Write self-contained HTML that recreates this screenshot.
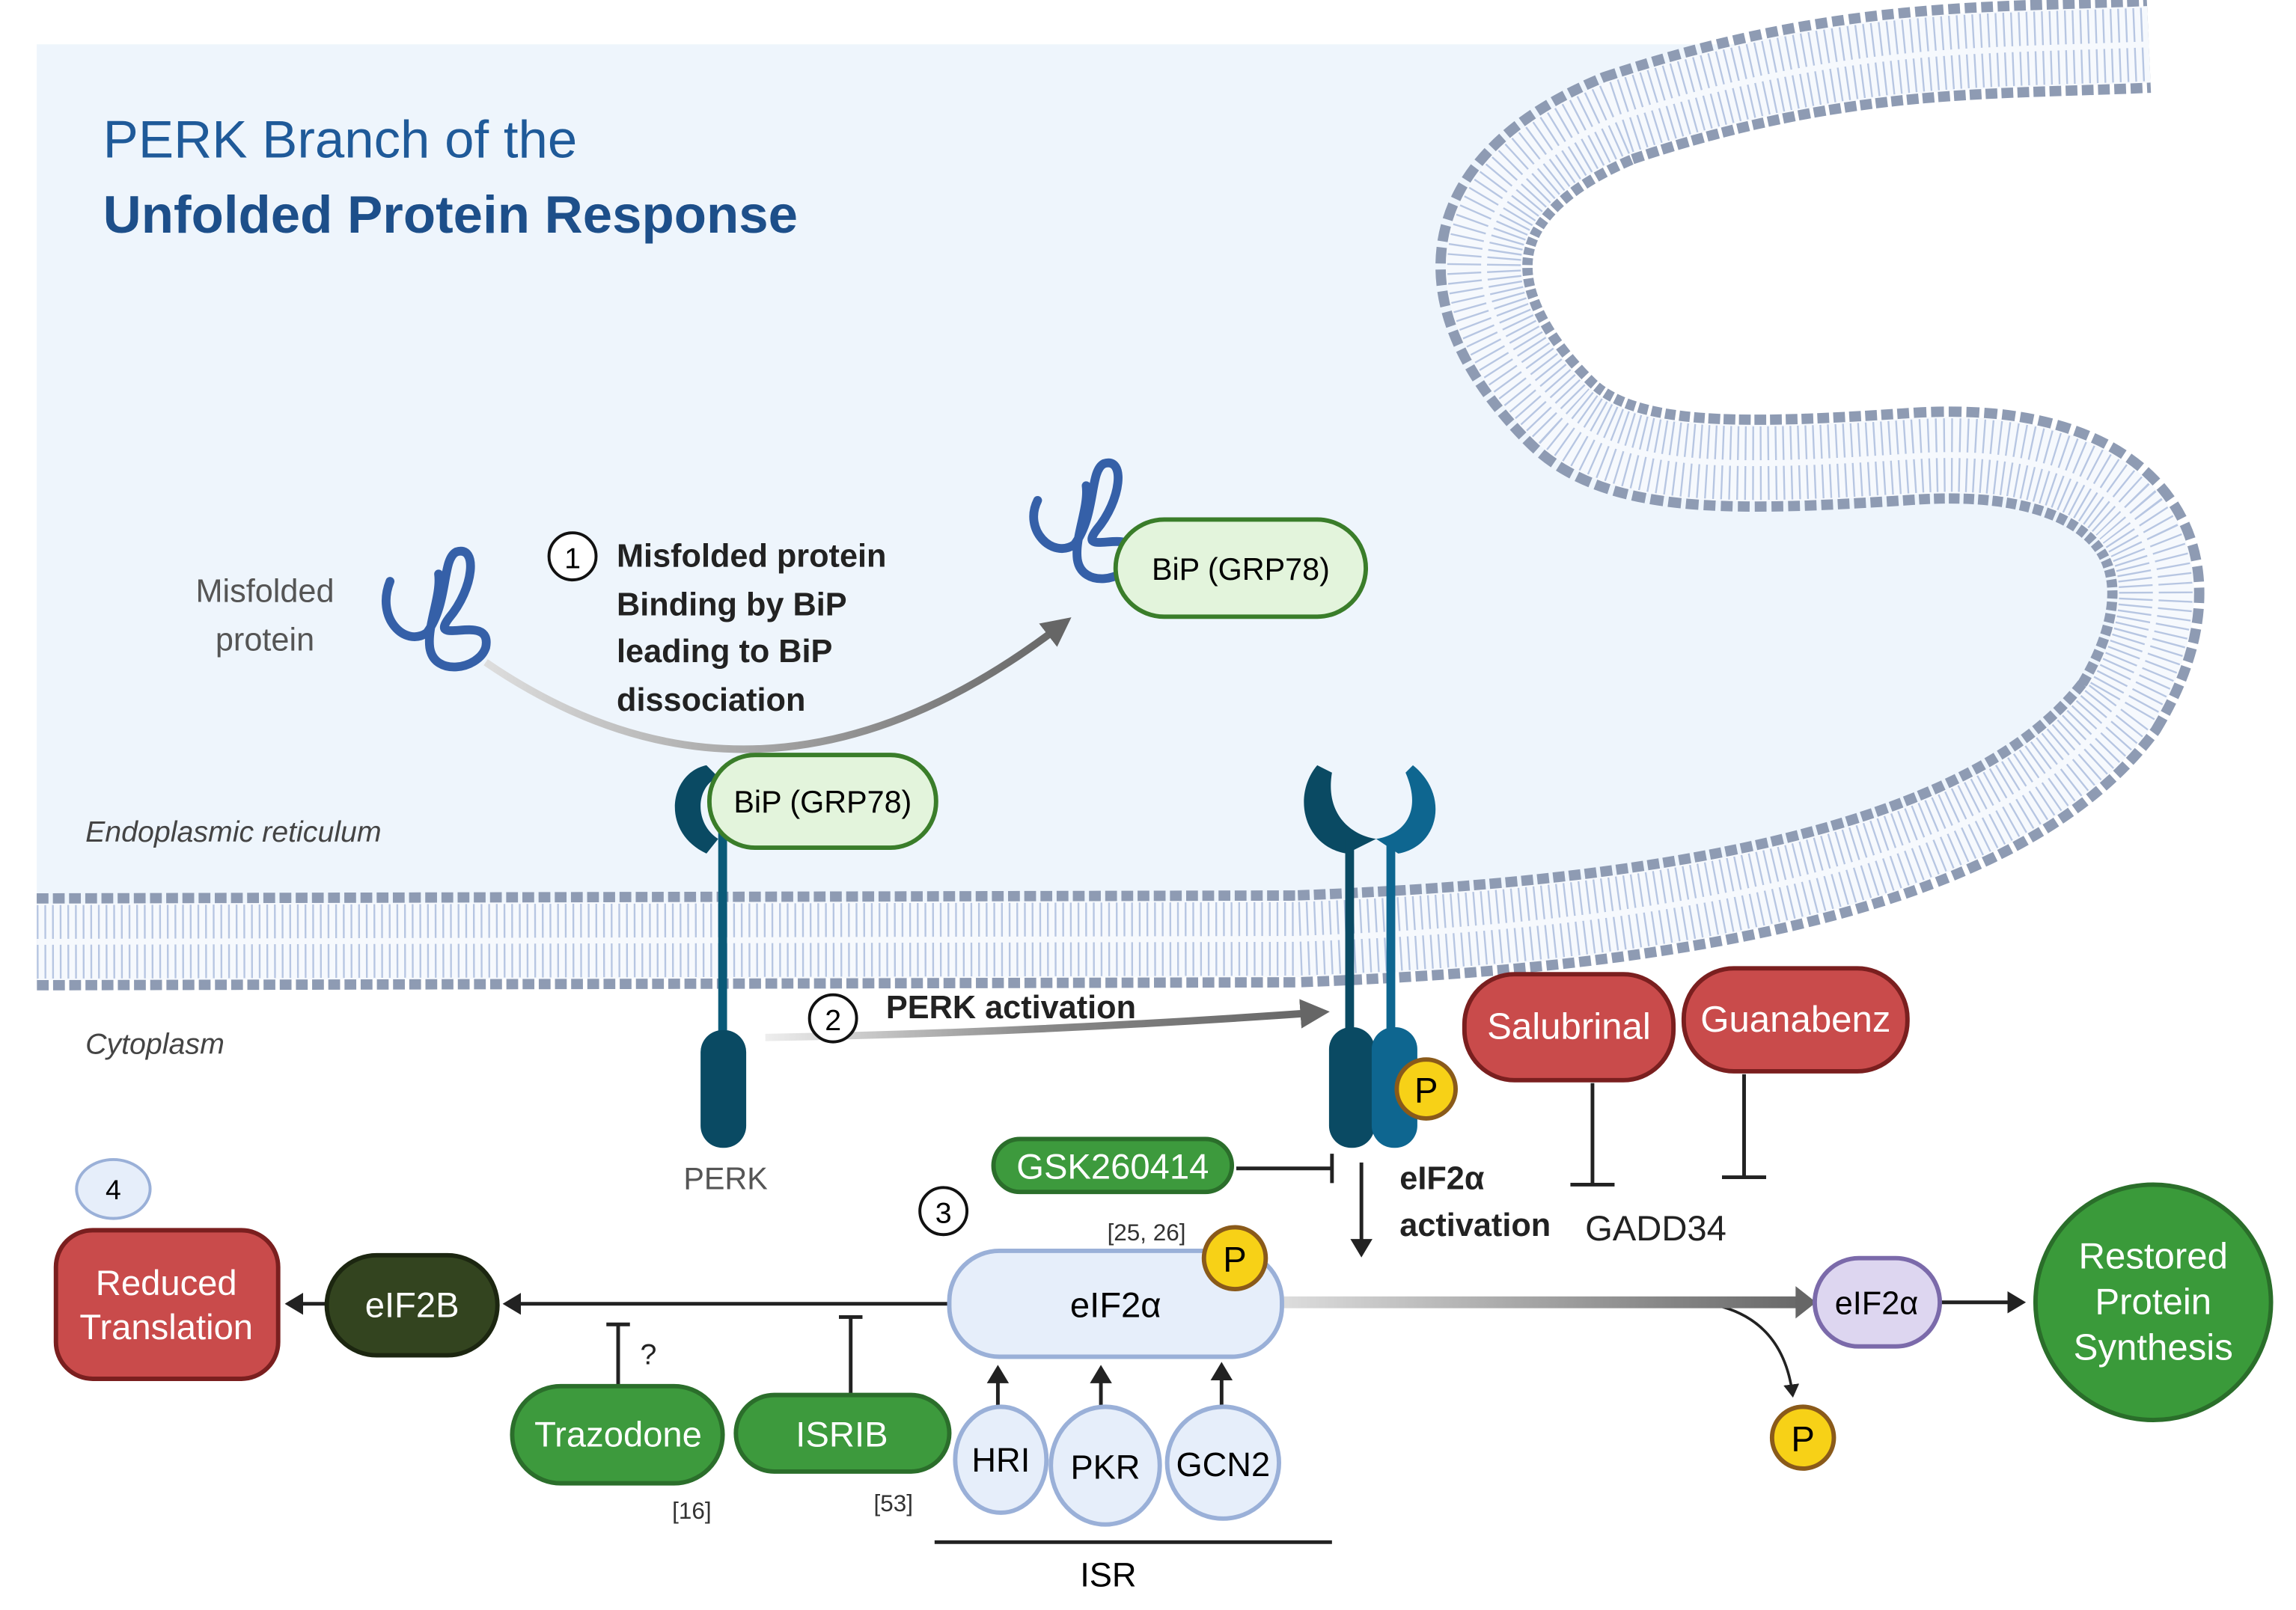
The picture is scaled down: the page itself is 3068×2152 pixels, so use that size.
<!DOCTYPE html>
<html><head><meta charset="utf-8"><style>
html,body{margin:0;padding:0;background:#fff}
svg{display:block}
text{font-family:"Liberation Sans",sans-serif}
</style></head><body>
<svg width="3068" height="2152" viewBox="0 0 1560 1094" xmlns="http://www.w3.org/2000/svg">
<defs>
<linearGradient id="g1" x1="0" x2="1"><stop offset="0" stop-color="#ddd"/><stop offset="1" stop-color="#666"/></linearGradient>
<linearGradient id="g2" x1="0" x2="1"><stop offset="0" stop-color="#eee"/><stop offset="0.5" stop-color="#888"/><stop offset="1" stop-color="#666"/></linearGradient>
<linearGradient id="g3" gradientUnits="userSpaceOnUse" x1="871" y1="0" x2="1230" y2="0"><stop offset="0" stop-color="#ddd"/><stop offset="1" stop-color="#666"/></linearGradient>
<marker id="ah" markerWidth="6" markerHeight="6" refX="4" refY="3" orient="auto" markerUnits="strokeWidth"><path d="M0,0 L5,3 L0,6 Z" fill="#222"/></marker>
<marker id="ahg" markerWidth="4" markerHeight="4" refX="2.5" refY="2" orient="auto" markerUnits="strokeWidth"><path d="M0,0 L4,2 L0,4 Z" fill="#666"/></marker>
</defs>
<path d="M25,30 L1460,30 C1350,35 1250,30 1100,80 C980,130 990,210 1060,280 C1100,320 1180,318 1300,310 C1450,300 1500,380 1440,480 C1350,600 1100,630 880,638 L25,640 Z" fill="#eef5fc"/>
<g fill="none">
<path d="M25,640 L880,638 C1100,630 1350,600 1440,480 C1500,380 1450,300 1300,310 C1180,318 1100,320 1060,280 C990,210 980,130 1100,80 C1250,30 1350,35 1460,30" stroke="#8e9bb3" stroke-width="66" stroke-dasharray="8 3"/>
<path d="M25,640 L880,638 C1100,630 1350,600 1440,480 C1500,380 1450,300 1300,310 C1180,318 1100,320 1060,280 C990,210 980,130 1100,80 C1250,30 1350,35 1460,30" stroke="#f6f9fd" stroke-width="52"/>
<path d="M25,640 L880,638 C1100,630 1350,600 1440,480 C1500,380 1450,300 1300,310 C1180,318 1100,320 1060,280 C990,210 980,130 1100,80 C1250,30 1350,35 1460,30" stroke="#b7c6e2" stroke-width="50" stroke-dasharray="1.2 4"/>
<path d="M25,640 L880,638 C1100,630 1350,600 1440,480 C1500,380 1450,300 1300,310 C1180,318 1100,320 1060,280 C990,210 980,130 1100,80 C1250,30 1350,35 1460,30" stroke="#f6f9fd" stroke-width="4"/>
</g>
<text x="70" y="107" font-size="36" fill="#1f5a99">PERK Branch of the</text>
<text x="70" y="158" font-size="36" font-weight="bold" fill="#1d4f8a">Unfolded Protein Response</text>
<text x="180" y="409" font-size="22" fill="#555" text-anchor="middle">Misfolded</text>
<text x="180" y="442" font-size="22" fill="#555" text-anchor="middle">protein</text>
<g fill="none" stroke="#3560a8" stroke-width="6" stroke-linecap="round">
<path d="M265,395 C255,420 275,440 290,430 C305,410 300,380 310,375 C325,370 322,400 305,420 C290,440 335,415 330,440 C325,455 295,460 292,440 C290,425 300,405 298,390"/>
<path d="M705,340 C695,360 715,380 730,370 C745,350 740,320 750,315 C765,310 762,340 745,360 C730,380 775,355 770,380 C765,395 735,400 732,380 C730,365 740,345 738,330"/>
</g>
<path d="M330,450 Q520,580 722,424" fill="none" stroke="url(#g1)" stroke-width="5" marker-end="url(#ahg)"/>
<circle cx="389" cy="378" r="16" fill="#fff" stroke="#111" stroke-width="2"/>
<text x="389" y="386" font-size="20" text-anchor="middle">1</text>
<g font-size="22" font-weight="bold" fill="#222">
<text x="419" y="385">Misfolded protein</text>
<text x="419" y="418">Binding by BiP</text>
<text x="419" y="450">leading to BiP</text>
<text x="419" y="483">dissociation</text>
</g>
<rect x="758" y="353" width="170" height="66" rx="33" fill="#e3f4dc" stroke="#3a7d2a" stroke-width="3"/>
<text x="843" y="394" font-size="21" text-anchor="middle">BiP (GRP78)</text>
<path d="M480,520 C455,525 448,565 480,580 L488,570 C472,560 472,535 488,528 Z" fill="#0a4a63"/>
<rect x="488" y="560" width="6" height="150" fill="#0a5a78"/>
<rect x="476" y="700" width="31" height="80" rx="15" fill="#0a4a63"/>
<rect x="482" y="513" width="154" height="63" rx="31" fill="#e3f4dc" stroke="#3a7d2a" stroke-width="3"/>
<text x="559" y="552" font-size="21" text-anchor="middle">BiP (GRP78)</text>
<text x="58" y="572" font-size="20" font-style="italic" fill="#444">Endoplasmic reticulum</text>
<text x="58" y="716" font-size="20" font-style="italic" fill="#444">Cytoplasm</text>
<text x="493" y="808" font-size="21" fill="#555" text-anchor="middle">PERK</text>
<path d="M520,705 Q700,702 896,688" fill="none" stroke="url(#g2)" stroke-width="5" marker-end="url(#ahg)"/>
<circle cx="566" cy="692" r="16" fill="#fff" stroke="#111" stroke-width="2"/>
<text x="566" y="700" font-size="20" text-anchor="middle">2</text>
<text x="602" y="692" font-size="22" font-weight="bold" fill="#222">PERK activation</text>
<path d="M895,520 C878,540 885,575 915,580 L935,570 C920,568 900,555 905,525 Z" fill="#0a4a63"/>
<path d="M960,520 C985,540 978,575 950,580 L935,570 C950,568 968,555 955,525 Z" fill="#0e6690"/>
<rect x="914" y="570" width="6" height="140" fill="#0a4a63"/>
<rect x="942" y="570" width="6" height="140" fill="#0e6690"/>
<rect x="903" y="698" width="31" height="82" rx="15" fill="#0a4a63"/>
<rect x="932" y="698" width="31" height="82" rx="15" fill="#0e6690"/>
<circle cx="969" cy="740" r="20" fill="#f7d117" stroke="#8a5a1a" stroke-width="3"/>
<text x="969" y="749" font-size="24" text-anchor="middle">P</text>
<rect x="995" y="662" width="142" height="72" rx="34" fill="#c94b4b" stroke="#7a1f1f" stroke-width="3"/>
<text x="1066" y="706" font-size="25" fill="#fff" text-anchor="middle">Salubrinal</text>
<rect x="1144" y="658" width="152" height="70" rx="34" fill="#c94b4b" stroke="#7a1f1f" stroke-width="3"/>
<text x="1220" y="701" font-size="25" fill="#fff" text-anchor="middle">Guanabenz</text>
<g stroke="#222" stroke-width="2.5" fill="none">
<path d="M1082,736 V805 M1067,805 H1097"/>
<path d="M1185,730 V800 M1170,800 H1200"/>
<path d="M840,794 H905 M905,784 V804"/>
<path d="M925,790 V852" marker-end="url(#ah)"/>
<path d="M645,886 H344" marker-end="url(#ah)"/>
<path d="M222,886 H196" marker-end="url(#ah)"/>
<path d="M420,942 V900 M412,900 H428"/>
<path d="M578,948 V895 M570,895 H586"/>
<path d="M678,955 V930" marker-end="url(#ah)"/>
<path d="M748,958 V930" marker-end="url(#ah)"/>
<path d="M830,955 V928" marker-end="url(#ah)"/>
<path d="M635,1048 H905"/>
<path d="M1318,885 H1374" marker-end="url(#ah)"/>
<path d="M1170,888 Q1212,900 1218,948" marker-end="url(#ah)" stroke-width="1.8"/>
</g>
<text x="1125" y="843" font-size="24" text-anchor="middle" fill="#222">GADD34</text>
<text x="951" y="808" font-size="22" font-weight="bold" fill="#222">eIF2α</text>
<text x="951" y="840" font-size="22" font-weight="bold" fill="#222">activation</text>
<rect x="675" y="774" width="162" height="36" rx="18" fill="#3d9a3d" stroke="#2b6e2b" stroke-width="3"/>
<text x="756" y="801" font-size="24" fill="#fff" text-anchor="middle">GSK260414</text>
<circle cx="641" cy="823" r="16" fill="#fff" stroke="#111" stroke-width="2"/>
<text x="641" y="831" font-size="20" text-anchor="middle">3</text>
<text x="779" y="843" font-size="16" text-anchor="middle" fill="#333">[25, 26]</text>
<rect x="871" y="881" width="352" height="8" fill="url(#g3)"/>
<path d="M1220,874 L1234,885 L1220,896 Z" fill="#666"/>
<rect x="645" y="850" width="226" height="72" rx="34" fill="#e6eefa" stroke="#9ab0d8" stroke-width="3"/>
<text x="758" y="895" font-size="24" text-anchor="middle">eIF2α</text>
<circle cx="839" cy="855" r="21" fill="#f7d117" stroke="#8a5a1a" stroke-width="3"/>
<text x="839" y="864" font-size="24" text-anchor="middle">P</text>
<rect x="222" y="853" width="116" height="68" rx="34" fill="#33441f" stroke="#1c2610" stroke-width="3"/>
<text x="280" y="895" font-size="24" fill="#fff" text-anchor="middle">eIF2B</text>
<rect x="38" y="836" width="151" height="101" rx="25" fill="#c94b4b" stroke="#7a1f1f" stroke-width="3"/>
<text x="113" y="880" font-size="24" fill="#fff" text-anchor="middle">Reduced</text>
<text x="113" y="910" font-size="24" fill="#fff" text-anchor="middle">Translation</text>
<ellipse cx="77" cy="808" rx="25" ry="20" fill="#e6eefa" stroke="#9ab0d8" stroke-width="2"/>
<text x="77" y="815" font-size="19" text-anchor="middle">4</text>
<rect x="348" y="942" width="143" height="66" rx="33" fill="#3d9a3d" stroke="#2b6e2b" stroke-width="3"/>
<text x="420" y="983" font-size="24" fill="#fff" text-anchor="middle">Trazodone</text>
<text x="435" y="927" font-size="20" fill="#222">?</text>
<text x="470" y="1032" font-size="16" text-anchor="middle" fill="#333">[16]</text>
<rect x="500" y="948" width="145" height="52" rx="26" fill="#3d9a3d" stroke="#2b6e2b" stroke-width="3"/>
<text x="572" y="983" font-size="24" fill="#fff" text-anchor="middle">ISRIB</text>
<text x="607" y="1027" font-size="16" text-anchor="middle" fill="#333">[53]</text>
<g fill="#e6eefa" stroke="#9ab0d8" stroke-width="3">
<ellipse cx="680" cy="992" rx="31" ry="36"/>
<ellipse cx="751" cy="996" rx="37" ry="40"/>
<ellipse cx="831" cy="994" rx="38" ry="38"/>
</g>
<text x="680" y="1000" font-size="23" text-anchor="middle">HRI</text>
<text x="751" y="1005" font-size="23" text-anchor="middle">PKR</text>
<text x="831" y="1003" font-size="23" text-anchor="middle">GCN2</text>
<text x="753" y="1078" font-size="23" text-anchor="middle">ISR</text>
<circle cx="1225" cy="977" r="21" fill="#f7d117" stroke="#8a5a1a" stroke-width="3"/>
<text x="1225" y="986" font-size="24" text-anchor="middle">P</text>
<rect x="1233" y="855" width="85" height="60" rx="30" fill="#ddd6f0" stroke="#7b6aaa" stroke-width="3"/>
<text x="1275" y="893" font-size="22" text-anchor="middle">eIF2α</text>
<circle cx="1463" cy="885" r="80" fill="#3a9a3a" stroke="#2a6e2a" stroke-width="3"/>
<text x="1463" y="862" font-size="25" fill="#fff" text-anchor="middle">Restored</text>
<text x="1463" y="893" font-size="25" fill="#fff" text-anchor="middle">Protein</text>
<text x="1463" y="924" font-size="25" fill="#fff" text-anchor="middle">Synthesis</text>
</svg>
</body></html>
